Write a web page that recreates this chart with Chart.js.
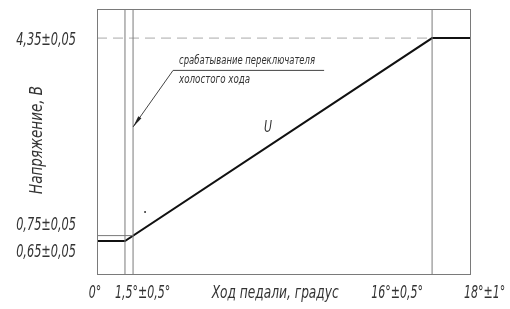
<!DOCTYPE html>
<html>
<head>
<meta charset="utf-8">
<script src="https://cdn.jsdelivr.net/npm/chart.js@4"></script>
<style>
	body { margin: 0; background: #fff; }
	#wrap { width: 510px; height: 309px; }
</style>
</head>
<body>
<div id="wrap"><canvas id="chart" width="510" height="309"></canvas></div>
<script>
// pedal travel, degrees / voltage, V
const curveX = [0, 1.35, 16.17, 18];
const curveY = [0.65, 0.65, 4.35, 4.35];
const switchX = 1.74;      // idle switch line
const startY = 0.75;
const topY = 4.35;
const xTicks = [0, 1.35, 16.17, 18];
const xTickLabels = ['0°', '1,5°±0,5°', '16°±0,5°', '18°±1°'];
const yTicks = [4.35, 0.75, 0.65];
const yTickLabels = ['4,35±0,05', '0,75±0,05', '0,65±0,05'];
const dotPoint = { x: 2.32, y: 1.18 };

const FONT = "'Liberation Sans Narrow', 'DejaVu Sans Condensed', 'DejaVu Sans', sans-serif";
const gray = '#7a7a7a';

function pts(xs, ys) {
	return xs.map(function(x, i) { return { x: x, y: ys[i] }; });
}
function vline(x) {
	return {
		data: [{ x: x, y: 0.05 }, { x: x, y: 4.88 }],
		borderColor: gray, borderWidth: 1, pointRadius: 0, showLine: true
	};
}

// condensed italic text: k is the horizontal squeeze
function drawTextK(ctx, text, x, y, align, size, k) {
	ctx.save();
	ctx.font = 'italic ' + size + 'px ' + FONT;
	const width = ctx.measureText(text).width * k;
	let left = x;
	if (align === 'center') left = x - width / 2;
	if (align === 'right') left = x - width;
	ctx.translate(left, y);
	ctx.scale(k, 1);
	ctx.textAlign = 'left';
	ctx.textBaseline = 'middle';
	ctx.fillText(text, 0, 0);
	ctx.restore();
}
// same, squeezed to a given width
function drawText(ctx, text, x, y, align, size, width) {
	ctx.save();
	ctx.font = 'italic ' + size + 'px ' + FONT;
	const k = width / ctx.measureText(text).width;
	ctx.restore();
	drawTextK(ctx, text, x, y, align, size, k);
}

const textPlugin = {
	id: 'drawingText',
	afterDraw: function(chart) {
		const ctx = chart.ctx;
		const a = chart.chartArea;
		const xs = chart.scales.x, ys = chart.scales.y;
		ctx.save();
		// frame
		ctx.strokeStyle = gray;
		ctx.lineWidth = 1;
		ctx.strokeRect(a.left + 0.5, a.top + 0.5, a.right - a.left, a.bottom - a.top);

		ctx.fillStyle = '#333';

		// y tick labels
		const yOff = [2, -10, 11];
		yTicks.forEach(function(v, i) {
			drawTextK(ctx, yTickLabels[i], 76, ys.getPixelForValue(v) + yOff[i], 'right', 17, 0.74);
		});

		// x tick labels
		const xAlign = ['center', 'left', 'right', 'left'];
		const xOff = [-2, -10, -9, -6];
		xTicks.forEach(function(v, i) {
			drawTextK(ctx, xTickLabels[i], xs.getPixelForValue(v) + xOff[i], 294, xAlign[i], 17, 0.72);
		});

		// axis titles
		drawText(ctx, 'Ход педали, градус', xs.getPixelForValue(8.6), 294, 'center', 17, 127);
		ctx.save();
		ctx.translate(38, 140);
		ctx.rotate(-Math.PI / 2);
		drawText(ctx, 'Напряжение, В', 0, 0, 'center', 17, 108);
		ctx.restore();

		// curve label
		drawText(ctx, 'U', xs.getPixelForValue(8.25), ys.getPixelForValue(2.72), 'center', 16, 8);

		// leader with note
		const x0 = xs.getPixelForValue(3.67), y0 = ys.getPixelForValue(3.77);
		const x1 = xs.getPixelForValue(10.96);
		const tx = xs.getPixelForValue(switchX), ty = ys.getPixelForValue(2.73);
		ctx.strokeStyle = '#444';
		ctx.beginPath();
		ctx.moveTo(x1, y0 + 0.5);
		ctx.lineTo(x0, y0 + 0.5);
		ctx.lineTo(tx, ty);
		ctx.stroke();
		const ang = Math.atan2(ty - y0, tx - x0);
		ctx.fillStyle = '#222';
		ctx.beginPath();
		ctx.moveTo(tx, ty);
		ctx.lineTo(tx - 12 * Math.cos(ang - 0.16), ty - 12 * Math.sin(ang - 0.16));
		ctx.lineTo(tx - 12 * Math.cos(ang + 0.16), ty - 12 * Math.sin(ang + 0.16));
		ctx.closePath();
		ctx.fill();
		ctx.fillStyle = '#333';
		drawText(ctx, 'срабатывание переключателя', x0 + 6, y0 - 9, 'left', 13, 136);
		drawText(ctx, 'холостого хода', x0 + 6, y0 + 10, 'left', 13, 71);
		ctx.restore();
	}
};

document.addEventListener('DOMContentLoaded', function() {
	const ctx = document.getElementById('chart').getContext('2d');
	new Chart(ctx, {
		type: 'scatter',
		data: {
			datasets: [
				vline(curveX[1]),
				vline(switchX),
				vline(curveX[2]),
				{
					data: [{ x: 0, y: topY }, { x: curveX[2], y: topY }],
					borderColor: '#aaaaaa', borderWidth: 1, borderDash: [10, 6],
					pointRadius: 0, showLine: true
				},
				{
					data: [{ x: 0, y: startY }, { x: switchX, y: startY }],
					borderColor: gray, borderWidth: 1, pointRadius: 0, showLine: true
				},
				{
					data: pts(curveX, curveY),
					borderColor: '#111', borderWidth: 2, pointRadius: 0, showLine: true
				},
				{
					data: [dotPoint],
					backgroundColor: '#333', borderWidth: 0, pointRadius: 1
				}
			]
		},
		options: {
			responsive: false,
			animation: false,
			layout: { padding: { left: 97, right: 40, top: 9, bottom: 35 } },
			plugins: { legend: { display: false }, tooltip: { enabled: false } },
			scales: {
				x: { type: 'linear', min: 0, max: 18, display: false },
				y: { type: 'linear', min: 0.05, max: 4.88, display: false }
			}
		},
		plugins: [textPlugin]
	});
});
</script>
</body>
</html>
